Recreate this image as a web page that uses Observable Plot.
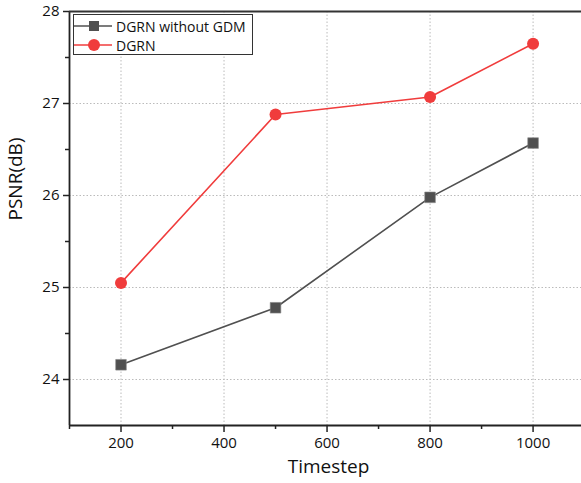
<!DOCTYPE html>
<html>
<head>
<meta charset="utf-8">
<script src="https://cdn.jsdelivr.net/npm/d3@7"></script>
<script src="https://cdn.jsdelivr.net/npm/@observablehq/plot@0.6"></script>
<style>
  html, body { margin: 0; padding: 0; background: #fff; }
  #wrap { position: relative; width: 581px; height: 483px; font-family: "Open Sans", "Noto Sans", sans-serif; }
  #legend { position: absolute; left: 73px; top: 14px; width: 180px; height: 41px; border: 1px solid #333; background: #fff; box-sizing: border-box; font-size: 14px; color: #111; }
  .row { position: absolute; left: 0; height: 20px; display: flex; align-items: center; }
  .row svg { display: block; }
  .row span { margin-left: 4px; white-space: nowrap; }
</style>
</head>
<body>
<div id="wrap"></div>
<script>
const timesteps = [200, 500, 800, 1000];
const psnrWithoutGDM = [24.16, 24.78, 25.98, 26.57];
const psnrDGRN = [25.05, 26.88, 27.07, 27.65];
const seriesNames = ["DGRN without GDM", "DGRN"];
const seriesColors = ["#505050", "#f03c3c"];
const xTicks = [200, 400, 600, 800, 1000];
const xMinorTicks = [100, 300, 500, 700, 900];
const yTicks = [24, 25, 26, 27, 28];
const yMinorTicks = [24.5, 25.5, 26.5, 27.5];

const rows = [];
timesteps.forEach((t, i) => {
  rows.push({series: seriesNames[0], t, v: psnrWithoutGDM[i]});
  rows.push({series: seriesNames[1], t, v: psnrDGRN[i]});
});
const gray = rows.filter(d => d.series === seriesNames[0]);
const red = rows.filter(d => d.series === seriesNames[1]);

const chart = Plot.plot({
  width: 581,
  height: 483,
  marginLeft: 69,
  marginRight: 0,
  marginTop: 11,
  marginBottom: 58,
  style: {fontFamily: '"Open Sans", "Noto Sans", sans-serif', fontSize: "15px", color: "#111", background: "#fff"},
  x: {domain: [100, 1094], ticks: xTicks},
  y: {domain: [23.5, 28], ticks: yTicks},
  marks: [
    Plot.gridX(xTicks, {stroke: "#bbb", strokeOpacity: 1, strokeDasharray: "1.5,2", strokeWidth: 1}),
    Plot.gridY(yTicks.slice(0, 4), {stroke: "#bbb", strokeOpacity: 1, strokeDasharray: "1.5,2", strokeWidth: 1}),
    Plot.axisX(xTicks, {tickSize: 7, tickPadding: 5, fontSize: 15, tickFormat: d => String(d), label: null, stroke: "#222", strokeWidth: 1.5}),
    Plot.axisX(xMinorTicks, {tickSize: 4, tickFormat: () => "", label: null, stroke: "#222", strokeWidth: 1.5}),
    Plot.axisY(yTicks, {tickSize: 6, tickPadding: 4, fontSize: 15, tickFormat: d => String(d), label: null, stroke: "#222", strokeWidth: 1.5}),
    Plot.axisY(yMinorTicks, {tickSize: 4, tickFormat: () => "", label: null, stroke: "#222", strokeWidth: 1.5}),
    Plot.ruleX([100], {stroke: "#222", strokeWidth: 1.8}),
    Plot.ruleY([23.5], {stroke: "#222", strokeWidth: 1.8}),
    Plot.ruleY([28], {stroke: "#333", strokeWidth: 2.2}),
    Plot.line(gray, {x: "t", y: "v", stroke: seriesColors[0], strokeWidth: 1.6}),
    Plot.line(red, {x: "t", y: "v", stroke: seriesColors[1], strokeWidth: 1.6}),
    Plot.dot(gray, {x: "t", y: "v", symbol: "square", r: 6, fill: seriesColors[0], stroke: "#888", strokeWidth: 0.6}),
    Plot.dot(red, {x: "t", y: "v", symbol: "circle", r: 6, fill: seriesColors[1]}),
    Plot.text(["Timestep"], {frameAnchor: "bottom", dx: 3, dy: 47, fontSize: 19, fill: "#111"}),
    Plot.text(["PSNR(dB)"], {frameAnchor: "left", dx: -54, dy: 2, rotate: -90, fontSize: 19, fill: "#111"})
  ]
});
chart.style.overflow = "visible";
const wrap = document.getElementById("wrap");
wrap.appendChild(chart);

const legend = document.createElement("div");
legend.id = "legend";
const symbols = [
  `<rect x="15" y="5" width="10" height="10" fill="${seriesColors[0]}"/>`,
  `<circle cx="20" cy="10" r="6" fill="${seriesColors[1]}"/>`
];
seriesNames.forEach((name, i) => {
  const row = document.createElement("div");
  row.className = "row";
  row.style.top = (i * 19 + 1) + "px";
  row.innerHTML = `<svg width="38" height="20"><line x1="0" x2="38" y1="10" y2="10" stroke="${seriesColors[i]}" stroke-width="1.6"/>${symbols[i]}</svg><span>${name}</span>`;
  legend.appendChild(row);
});
wrap.appendChild(legend);
</script>
</body>
</html>
